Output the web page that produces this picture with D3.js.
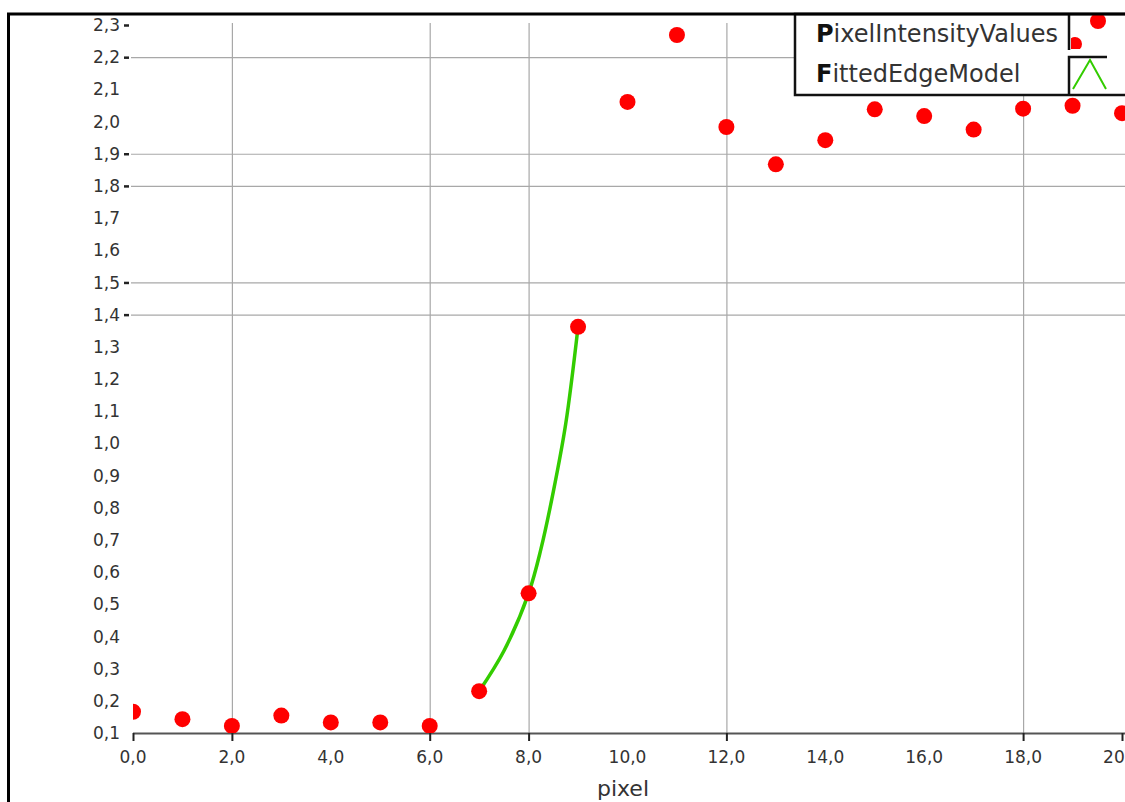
<!DOCTYPE html>
<html>
<head>
<meta charset="utf-8">
<script src="https://cdn.jsdelivr.net/npm/d3@7"></script>
<style>
  html, body { margin: 0; padding: 0; background: #ffffff; }
  svg { display: block; font-family: "DejaVu Sans", sans-serif; }
</style>
</head>
<body>
<div id="chart"></div>
<script>
// Measured pixel intensities (x = pixel index)
const pixelIndex = [0, 1, 2, 3, 4, 5, 6, 7, 8, 9, 10, 11, 12, 13, 14, 15, 16, 17, 18, 19, 20];
const intensity = [0.166, 0.143, 0.122, 0.154, 0.133, 0.133, 0.122, 0.23, 0.534, 1.362,
                   2.061, 2.269, 1.983, 1.867, 1.942, 2.038, 2.017, 1.975, 2.040, 2.049, 2.026];

// Fitted edge model
const fitX = [7.0, 7.5, 8.0, 8.25, 8.5, 8.75, 9.0];
const fitY = [0.23, 0.355, 0.534, 0.672, 0.85, 1.06, 1.362];

// Axes
const xTicks = [0, 2, 4, 6, 8, 10, 12, 14, 16, 18, 20];
const xGridTicks = [2, 6, 8, 12, 18];
const xMarkTicks = [0, 2, 6, 8, 12, 18, 20];
const yTicks = [0.1, 0.2, 0.3, 0.4, 0.5, 0.6, 0.7, 0.8, 0.9, 1.0, 1.1, 1.2,
                1.3, 1.4, 1.5, 1.6, 1.7, 1.8, 1.9, 2.0, 2.1, 2.2, 2.3];
const yGridTicks = [1.4, 1.5, 1.8, 1.9, 2.2];
const yMarkTicks = [1.4, 1.5, 1.8, 1.9, 2.2, 2.3];

const legendNames = ["PixelIntensityValues", "FittedEdgeModel"];
const xTitle = "pixel";

const width = 1125, height = 802;
const plot = { left: 133, right: 1122, top: 25, bottom: 733 };

const fmt = d3.formatLocale({ decimal: ",", thousands: ".", grouping: [3], currency: ["", ""] }).format(".1f");

const x = d3.scaleLinear().domain([0, 20]).range([plot.left, plot.right]);
const y = d3.scaleLinear().domain([0.1, 2.3]).range([plot.bottom, plot.top]);

const svg = d3.select("#chart").append("svg")
    .attr("width", width)
    .attr("height", height);

svg.append("rect").attr("width", width).attr("height", height).attr("fill", "#ffffff");

// Grid lines
svg.append("g").selectAll("line")
    .data(xGridTicks)
    .join("line")
    .attr("x1", d => x(d) + 0.5).attr("x2", d => x(d) + 0.5)
    .attr("y1", plot.top - 2).attr("y2", plot.bottom)
    .attr("stroke", "#a8a8a8").attr("stroke-width", 1.2);

svg.append("g").selectAll("line")
    .data(yGridTicks)
    .join("line")
    .attr("x1", plot.left - 2).attr("x2", width)
    .attr("y1", d => y(d) + 0.5).attr("y2", d => y(d) + 0.5)
    .attr("stroke", "#a8a8a8").attr("stroke-width", 1.2);

// Y tick labels and tick dashes
const yAxis = svg.append("g");
yAxis.selectAll("text")
    .data(yTicks)
    .join("text")
    .attr("x", 120)
    .attr("y", d => y(d))
    .attr("dy", "0.36em")
    .attr("text-anchor", "end")
    .attr("font-size", 17)
    .attr("fill", "#333")
    .text(d => fmt(d));
yAxis.selectAll("line")
    .data(yMarkTicks)
    .join("line")
    .attr("x1", 124).attr("x2", 129)
    .attr("y1", d => y(d) + 0.5).attr("y2", d => y(d) + 0.5)
    .attr("stroke", "#222").attr("stroke-width", 2.5);

// X axis
const xAxis = svg.append("g");
xAxis.append("line")
    .attr("x1", plot.left).attr("x2", width)
    .attr("y1", plot.bottom + 0.5).attr("y2", plot.bottom + 0.5)
    .attr("stroke", "#555").attr("stroke-width", 2);
xAxis.selectAll("line.tick")
    .data(xMarkTicks)
    .join("line")
    .attr("class", "tick")
    .attr("x1", d => x(d) + 0.5).attr("x2", d => x(d) + 0.5)
    .attr("y1", plot.bottom).attr("y2", plot.bottom + 8)
    .attr("stroke", "#222").attr("stroke-width", 2);
xAxis.selectAll("text")
    .data(xTicks)
    .join("text")
    .attr("x", d => x(d))
    .attr("y", 763)
    .attr("text-anchor", "middle")
    .attr("font-size", 17)
    .attr("fill", "#333")
    .text(d => fmt(d));

svg.append("text")
    .attr("x", 623).attr("y", 796)
    .attr("text-anchor", "middle")
    .attr("font-size", 22)
    .attr("fill", "#333")
    .text(xTitle);

// Plot clip
svg.append("clipPath").attr("id", "plotClip")
    .append("rect")
    .attr("x", plot.left).attr("y", plot.top - 10)
    .attr("width", width - plot.left).attr("height", plot.bottom - plot.top + 10);

const marks = svg.append("g").attr("clip-path", "url(#plotClip)");

const fitData = fitX.map((d, i) => ({ x: d, y: fitY[i] }));
marks.append("path")
    .datum(fitData)
    .attr("fill", "none")
    .attr("stroke", "#33cc00")
    .attr("stroke-width", 3.5)
    .attr("d", d3.line().x(d => x(d.x)).y(d => y(d.y)).curve(d3.curveCatmullRom));

marks.selectAll("circle")
    .data(pixelIndex.map((d, i) => ({ x: d, y: intensity[i] })))
    .join("circle")
    .attr("cx", d => x(d.x))
    .attr("cy", d => y(d.y))
    .attr("r", 8)
    .attr("fill", "#ff0000");

// Legend
const legend = svg.append("g");
legend.append("rect")
    .attr("x", 795).attr("y", 14)
    .attr("width", 360).attr("height", 81)
    .attr("fill", "#ffffff")
    .attr("stroke", "#111").attr("stroke-width", 2.5);

const rowBase = [42, 82];
legend.selectAll("text")
    .data(legendNames)
    .join("text")
    .attr("x", 816)
    .attr("y", (d, i) => rowBase[i])
    .attr("font-size", 24)
    .attr("fill", "#333")
    .each(function (d) {
        const t = d3.select(this);
        t.append("tspan").attr("font-weight", "bold").attr("fill", "#111").text(d[0]);
        t.append("tspan").text(d.slice(1));
    });

legend.append("path")
    .attr("d", "M1069,14 V50 M1069,95 V57 H1107")
    .attr("fill", "none")
    .attr("stroke", "#111").attr("stroke-width", 2.5);

svg.append("clipPath").attr("id", "legClip")
    .append("rect").attr("x", 1071).attr("y", 15).attr("width", 40).attr("height", 34);
const legDots = legend.append("g").attr("clip-path", "url(#legClip)");
legDots.append("circle").attr("cx", 1098).attr("cy", 21).attr("r", 8).attr("fill", "#ff0000");
legDots.append("circle").attr("cx", 1075).attr("cy", 44).attr("r", 7).attr("fill", "#ff0000");

legend.append("path")
    .attr("d", "M1073,89 L1090,60 L1106,89")
    .attr("fill", "none")
    .attr("stroke", "#33cc00").attr("stroke-width", 2);

// Outer frame
svg.append("path")
    .attr("d", "M8.5,802 V14 H1125")
    .attr("fill", "none")
    .attr("stroke", "#000").attr("stroke-width", 3);
</script>
</body>
</html>
